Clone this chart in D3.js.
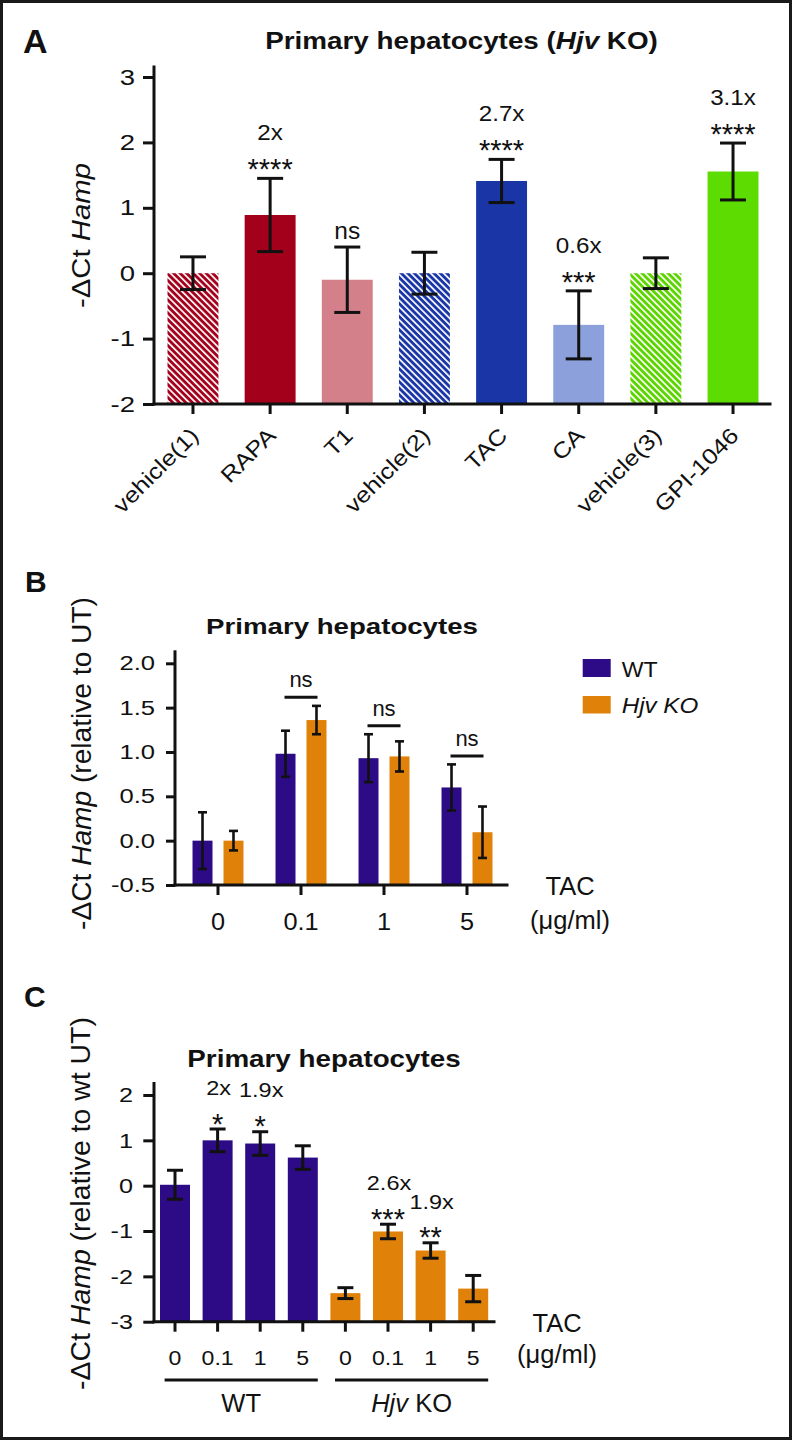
<!DOCTYPE html>
<html><head><meta charset="utf-8">
<script src="https://cdn.jsdelivr.net/npm/d3@7"></script>
<style>
body{margin:0;background:#fff}
svg{display:block}
text{font-family:"Liberation Sans", Arial, Helvetica, sans-serif;}
</style>
</head><body>
<svg id="c" width="794" height="1441"></svg>
<script>
// ---------- Panel A data ----------
const catsA  = ["vehicle(1)","RAPA","T1","vehicle(2)","TAC","CA","vehicle(3)","GPI-1046"];
const meanA  = [0, 0.89, -0.10, 0, 1.41, -0.79, 0, 1.555];
const errA   = [0.25, 0.56, 0.50, 0.32, 0.33, 0.52, 0.235, 0.435];
const foldA  = ["", "2x", "", "", "2.7x", "0.6x", "", "3.1x"];
const sigA   = ["", "****", "ns", "", "****", "***", "", "****"];
const colorA = ["#a3001b","#a3001b","#d4808b","#1935a6","#1935a6","#8ca1dc","#5cd400","#5cdc00"];
const hatchA = [true,false,false,true,false,false,true,false];
const ticksA = [-2,-1,0,1,2,3];

// ---------- Panel B data ----------
const dosesB   = ["0","0.1","1","5"];
const wtB      = [0, 0.98, 0.93, 0.60];
const wtErrB   = [0.32, 0.26, 0.27, 0.26];
const koB      = [0, 1.36, 0.95, 0.095];
const koErrB   = [0.11, 0.16, 0.17, 0.29];
const sigB     = ["", "ns", "ns", "ns"];
const ticksB   = [-0.5,0,0.5,1,1.5,2];

// ---------- Panel C data ----------
const dosesC = ["0","0.1","1","5","0","0.1","1","5"];
const genoC  = ["WT","WT","WT","WT","KO","KO","KO","KO"];
const meanC  = [0.02, 1.0, 0.93, 0.62, -2.37, -1.01, -1.43, -2.27];
const errC   = [0.32, 0.25, 0.26, 0.26, 0.12, 0.16, 0.17, 0.29];
const foldC  = ["", "2x", "1.9x", "", "", "2.6x", "1.9x", ""];
const sigC   = ["", "*", "*", "", "", "***", "**", ""];
const ticksC = [-3,-2,-1,0,1,2];

const genoColor = {WT:"#2d0b87", KO:"#e08209"};
const INK = "#111";

const svg = d3.select("#c");
svg.append("rect").attr("x",1.5).attr("y",1.5).attr("width",789).attr("height",1437)
   .attr("fill","#fff").attr("stroke","#1a1a1a").attr("stroke-width",3);

const defs = svg.append("defs");
function hatch(id, color){
  const p = defs.append("pattern").attr("id",id).attr("patternUnits","userSpaceOnUse")
    .attr("width",4.6).attr("height",4.6).attr("patternTransform","rotate(-45)");
  p.append("rect").attr("width",4.6).attr("height",4.6).attr("fill",color);
  p.append("rect").attr("width",1.7).attr("height",4.6).attr("fill","#fff");
}

// text helper: parts = string or [[str, italic], ...]
function txt(parent, x, y, parts, o={}){
  const g = parent.append("g").attr("transform",`translate(${x},${y}) rotate(${o.rotate||0})`);
  const t = g.append("text").attr("font-size",o.size||20).attr("font-weight",o.weight||"normal")
    .attr("text-anchor",o.anchor||"start").attr("fill",o.fill||INK);
  const arr = Array.isArray(parts) ? parts : [[parts,false]];
  arr.forEach(([s,it]) => t.append("tspan").attr("font-style", it ? "italic" : "normal").text(s));
  let sx = o.sx || 1;
  if (o.width){ sx = o.width / t.node().getComputedTextLength(); }
  t.attr("transform",`scale(${sx},1)`);
  return t;
}

function styleAxis(g, sw, fsize, sx){
  g.select(".domain").remove();
  g.selectAll(".tick line").attr("stroke",INK).attr("stroke-width",sw);
  g.selectAll(".tick text").attr("font-size",fsize).attr("fill",INK)
    .attr("font-family",'"Liberation Sans", Arial, sans-serif');
}

function errorBars(g, xs, tops, bots, capW, sw){
  xs.forEach((x,i)=>{
    g.append("line").attr("x1",x).attr("x2",x).attr("y1",tops[i]).attr("y2",bots[i])
      .attr("stroke",INK).attr("stroke-width",sw);
    [tops[i],bots[i]].forEach(yy=>g.append("line").attr("x1",x-capW/2).attr("x2",x+capW/2)
      .attr("y1",yy).attr("y2",yy).attr("stroke",INK).attr("stroke-width",sw));
  });
}

// ================= PANEL A =================
(function(){
  const g = svg.append("g");
  const xA = d3.scaleBand().domain(catsA).range([154.4,771.6]).paddingInner(0.34).paddingOuter(0.17);
  const yA = d3.scaleLinear().domain([-2,3]).range([404,77]);
  catsA.forEach((c,i)=>{ if(hatchA[i]) hatch("hA"+i, colorA[i]); });

  g.selectAll("rect.bar").data(catsA).join("rect").attr("class","bar")
    .attr("x",d=>xA(d)).attr("width",xA.bandwidth())
    .attr("y",(d,i)=>yA(meanA[i])).attr("height",(d,i)=>yA(-2)-yA(meanA[i]))
    .attr("fill",(d,i)=>hatchA[i] ? `url(#hA${i})` : colorA[i]);

  const cx = catsA.map(c=>xA(c)+xA.bandwidth()/2);
  errorBars(g, cx, meanA.map((m,i)=>yA(m+errA[i])), meanA.map((m,i)=>yA(m-errA[i])), 26, 3);

  // axes
  const ay = g.append("g").attr("transform","translate(154,0)")
    .call(d3.axisLeft(yA).tickValues(ticksA).tickFormat(d=>String(d)).tickSize(11).tickPadding(8));
  styleAxis(ay, 3, 22);
  ay.selectAll(".tick text").attr("x",0).attr("transform","translate(-19,0) scale(1.25,1)");
  const ax = g.append("g").attr("transform","translate(0,404)")
    .call(d3.axisBottom(xA).tickSize(10).tickFormat(""));
  styleAxis(ax, 3, 22);
  g.append("line").attr("x1",154).attr("x2",154).attr("y1",yA(3)-10).attr("y2",404)
    .attr("stroke",INK).attr("stroke-width",3).attr("stroke-linecap","square");
  g.append("line").attr("x1",154).attr("x2",770).attr("y1",404).attr("y2",404)
    .attr("stroke",INK).attr("stroke-width",3).attr("stroke-linecap","square");

  catsA.forEach((c,i)=> txt(g, cx[i]+7, 437, c, {size:22, anchor:"end", rotate:-45, sx:1.15}));

  // annotations
  catsA.forEach((c,i)=>{
    const top = yA(meanA[i]+errA[i]);
    if (sigA[i]==="ns") txt(g, cx[i], top-8, "ns", {size:24, anchor:"middle", sx:1.02});
    else if (sigA[i]) txt(g, cx[i], top+1, sigA[i], {size:29, anchor:"middle"});
    if (foldA[i]) txt(g, cx[i], top-38, foldA[i], {size:22, anchor:"middle", sx:1.1});
  });

  txt(g, 23, 53, "A", {size:34, weight:"bold"});
  txt(g, 461.5, 48.5, [["Primary hepatocytes (",false],["Hjv",true],[" KO)",false]],
      {size:23, weight:"bold", anchor:"middle", width:393});
  txt(g, 90, 235.5, [["-\u0394Ct ",false],["Hamp",true]], {size:26, anchor:"middle", rotate:-90, width:145});
})();

// ================= PANEL B =================
(function(){
  const g = svg.append("g");
  const x0 = d3.scaleBand().domain(dosesB).range([176.5,508.5]).paddingInner(0.386).paddingOuter(0.193);
  const x1 = d3.scaleBand().domain(["WT","KO"]).range([0,x0.bandwidth()]).paddingInner(0.355);
  const yB = d3.scaleLinear().domain([-0.5,2]).range([885,663.3]);
  const series = [{k:"WT", v:wtB, e:wtErrB},{k:"KO", v:koB, e:koErrB}];

  series.forEach(s=>{
    g.selectAll("rect.b"+s.k).data(dosesB).join("rect").attr("class","b"+s.k)
      .attr("x",d=>x0(d)+x1(s.k)).attr("width",x1.bandwidth())
      .attr("y",(d,i)=>yB(s.v[i])).attr("height",(d,i)=>yB(-0.5)-yB(s.v[i]))
      .attr("fill",genoColor[s.k]);
    const cx = dosesB.map(d=>x0(d)+x1(s.k)+x1.bandwidth()/2);
    errorBars(g, cx, s.v.map((m,i)=>yB(m+s.e[i])), s.v.map((m,i)=>yB(m-s.e[i])), 9, 2.6);
  });

  // ns brackets
  dosesB.forEach((d,i)=>{
    if(!sigB[i]) return;
    const gc = x0(d)+x0.bandwidth()/2;
    const ly = Math.min(yB(wtB[i]+wtErrB[i]), yB(koB[i]+koErrB[i])) - 8.5;
    g.append("line").attr("x1",gc-16.5).attr("x2",gc+16.5).attr("y1",ly).attr("y2",ly)
      .attr("stroke",INK).attr("stroke-width",3);
    txt(g, gc, ly-10, sigB[i], {size:22, anchor:"middle"});
  });

  const ay = g.append("g").attr("transform","translate(175,0)")
    .call(d3.axisLeft(yB).tickValues(ticksB).tickFormat(d=>d.toFixed(1)).tickSize(9).tickPadding(11));
  styleAxis(ay, 3, 20);
  ay.selectAll(".tick text").attr("x",0).attr("transform","translate(-20,0) scale(1.28,1)");
  const ax = g.append("g").attr("transform","translate(0,885)")
    .call(d3.axisBottom(x0).tickSize(10).tickFormat(""));
  styleAxis(ax, 3, 22);
  ax.selectAll(".tick").attr("transform", d=>`translate(${x0(d)+x0.bandwidth()/2},0)`);
  g.append("line").attr("x1",175).attr("x2",175).attr("y1",yB(2)-11.5).attr("y2",885)
    .attr("stroke",INK).attr("stroke-width",3).attr("stroke-linecap","square");
  g.append("line").attr("x1",175).attr("x2",507).attr("y1",885).attr("y2",885)
    .attr("stroke",INK).attr("stroke-width",3).attr("stroke-linecap","square");

  dosesB.forEach(d=> txt(g, x0(d)+x0.bandwidth()/2, 930, d, {size:23, anchor:"middle", sx:1.1}));
  txt(g, 570, 895, "TAC", {size:25.5, anchor:"middle"});
  txt(g, 570, 929, "(\u03bcg/ml)", {size:25.5, anchor:"middle"});

  // legend
  g.append("rect").attr("x",582.7).attr("y",659).attr("width",28).attr("height",18).attr("fill",genoColor.WT);
  g.append("rect").attr("x",582.7).attr("y",696).attr("width",28).attr("height",17.5).attr("fill",genoColor.KO);
  txt(g, 621.7, 676.5, "WT", {size:22, sx:1.05});
  txt(g, 621.7, 712.7, [["Hjv KO",true]], {size:22, sx:1.1});

  txt(g, 25, 592, "B", {size:30, weight:"bold"});
  txt(g, 342, 633.5, "Primary hepatocytes", {size:22, weight:"bold", anchor:"middle", width:272});
  txt(g, 91, 763.5, [["-\u0394Ct ",false],["Hamp",true],[" (relative to UT)",false]],
      {size:27, anchor:"middle", rotate:-90, width:333});
})();

// ================= PANEL C =================
(function(){
  const g = svg.append("g");
  const idx = d3.range(dosesC.length);
  const xC = d3.scaleBand().domain(idx).range([154,494.2]).paddingInner(0.296).paddingOuter(0.141);
  const yC = d3.scaleLinear().domain([-3,2]).range([1321.7,1095]);

  g.selectAll("rect.bar").data(idx).join("rect").attr("class","bar")
    .attr("x",i=>xC(i)).attr("width",xC.bandwidth())
    .attr("y",i=>yC(meanC[i])).attr("height",i=>yC(-3)-yC(meanC[i]))
    .attr("fill",i=>genoColor[genoC[i]]);
  const cx = idx.map(i=>xC(i)+xC.bandwidth()/2);
  errorBars(g, cx, meanC.map((m,i)=>yC(m+errC[i])), meanC.map((m,i)=>yC(m-errC[i])), 16, 3);

  idx.forEach(i=>{
    const top = yC(meanC[i]+errC[i]);
    if (sigC[i]) txt(g, cx[i], top+4.5, sigC[i], {size:29, anchor:"middle"});
    if (foldC[i]) txt(g, cx[i]+1, top-34.3, foldC[i], {size:21, anchor:"middle", sx:1.12});
  });

  const ay = g.append("g").attr("transform","translate(154,0)")
    .call(d3.axisLeft(yC).tickValues(ticksC).tickFormat(d=>String(d)).tickSize(10.7).tickPadding(10));
  styleAxis(ay, 3, 21);
  ay.selectAll(".tick text").attr("x",0).attr("transform","translate(-21,0) scale(1.2,1)");
  const ax = g.append("g").attr("transform","translate(0,1321.7)")
    .call(d3.axisBottom(xC).tickSize(10).tickFormat(""));
  styleAxis(ax, 3, 21);
  g.append("line").attr("x1",154).attr("x2",154).attr("y1",yC(2)-11.5).attr("y2",1321.7)
    .attr("stroke",INK).attr("stroke-width",3).attr("stroke-linecap","square");
  g.append("line").attr("x1",154).attr("x2",494).attr("y1",1321.7).attr("y2",1321.7)
    .attr("stroke",INK).attr("stroke-width",3).attr("stroke-linecap","square");

  idx.forEach(i=> txt(g, cx[i], 1365, dosesC[i], {size:21, anchor:"middle", sx:1.1}));
  txt(g, 557, 1331.7, "TAC", {size:25.5, anchor:"middle"});
  txt(g, 557, 1363, "(\u03bcg/ml)", {size:25.5, anchor:"middle"});

  // group underlines
  const groups = [{k:"WT", a:0, b:3, lab:[["WT",false]]},{k:"KO", a:4, b:7, lab:[["Hjv",true],[" KO",false]]}];
  groups.forEach(gr=>{
    const x1 = xC(gr.a)+4.6, x2 = xC(gr.b)+xC.bandwidth();
    g.append("line").attr("x1",x1).attr("x2",x2).attr("y1",1380).attr("y2",1380)
      .attr("stroke",INK).attr("stroke-width",3);
    txt(g, (x1+x2)/2, 1412, gr.lab, {size:25.5, anchor:"middle"});
  });

  txt(g, 24, 1006.7, "C", {size:30, weight:"bold"});
  txt(g, 324, 1066.7, "Primary hepatocytes", {size:23, weight:"bold", anchor:"middle", width:273.5});
  txt(g, 90, 1203.5, [["-\u0394Ct ",false],["Hamp",true],[" (relative to wt UT)",false]],
      {size:27, anchor:"middle", rotate:-90, width:373});
})();
</script>
</body></html>
